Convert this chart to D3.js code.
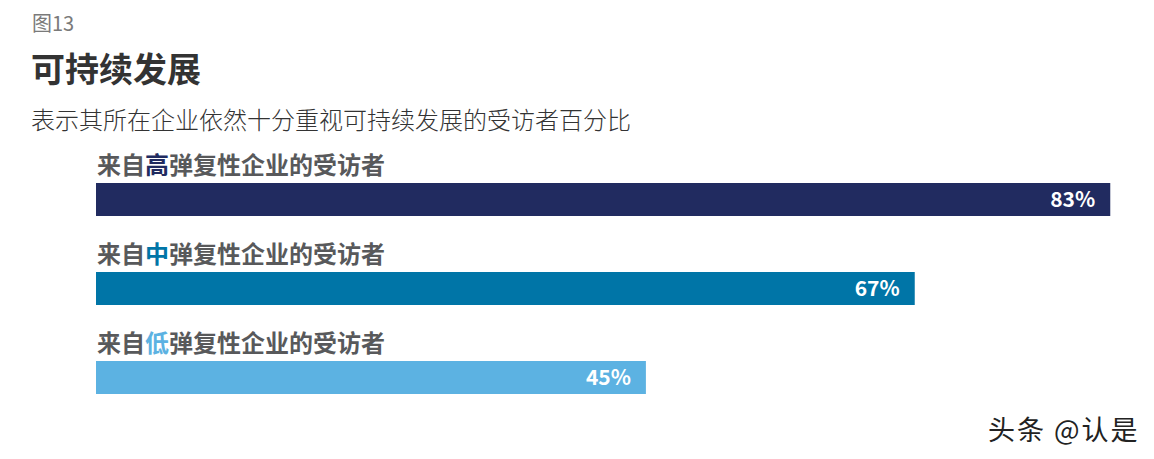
<!DOCTYPE html>
<html>
  <head>
    <meta charset="utf-8">
    <script src="https://d3js.org/d3.v7.min.js"></script>
    <style>
      body { margin: 0; background: #fff; }
      text { font-family: "Noto Sans CJK SC", "Noto Sans", sans-serif; }
    </style>
  </head>
  <body>
    <div id="chart"></div>
    <script>
      // data
      const groups = ['高', '中', '低'];
      const values = [83, 67, 45];
      const colors = ['#212b60', '#0075a7', '#5cb2e2'];
      const labelPrefix = '来自';
      const labelSuffix = '弹复性企业的受访者';

      const width = 1154;
      const height = 459;

      const svg = d3.select('#chart')
        .append('svg')
        .attr('width', width)
        .attr('height', height);

      const x = d3.scaleLinear()
        .domain([0, 100])
        .range([96, 1318]);

      const y = d3.scaleBand()
        .domain(groups)
        .range([183, 450])
        .paddingInner(0)
        .paddingOuter(0);

      const barH = 33;

      // header
      svg.append('text')
        .attr('x', 32).attr('y', 31)
        .attr('font-size', 20)
        .attr('fill', '#7a7a7a')
        .text('图13');

      svg.append('text')
        .attr('x', 31).attr('y', 82)
        .attr('font-size', 34)
        .attr('font-weight', 'bold')
        .attr('fill', '#333')
        .text('可持续发展');

      svg.append('text')
        .attr('x', 31).attr('y', 129)
        .attr('font-size', 24)
        .attr('font-weight', 300)
        .attr('fill', '#333')
        .text('表示其所在企业依然十分重视可持续发展的受访者百分比');

      const row = svg.selectAll('g.row')
        .data(groups)
        .join('g')
        .attr('class', 'row');

      row.append('rect')
        .attr('x', x(0))
        .attr('y', d => y(d))
        .attr('width', (d, i) => x(values[i]) - x(0))
        .attr('height', barH)
        .attr('fill', (d, i) => colors[i]);

      const label = row.append('text')
        .attr('x', x(0) + 1)
        .attr('y', d => y(d) - 9)
        .attr('font-size', 24)
        .attr('font-weight', 'bold')
        .attr('fill', '#58595b');
      label.append('tspan').text(labelPrefix);
      label.append('tspan').attr('fill', (d, i) => colors[i]).text(d => d);
      label.append('tspan').text(labelSuffix);

      row.append('text')
        .attr('x', (d, i) => x(values[i]) - 15)
        .attr('y', d => y(d) + barH / 2)
        .attr('dy', '0.36em')
        .attr('text-anchor', 'end')
        .attr('font-size', 21)
        .attr('font-family', '"Open Sans", "Noto Sans", sans-serif')
        .attr('font-weight', 600)
        .attr('fill', '#fff')
        .text((d, i) => values[i] + '%');

      // watermark
      svg.append('text')
        .attr('x', 988).attr('y', 440)
        .attr('font-size', 27)
        .attr('letter-spacing', 2)
        .attr('fill', '#222')
        .text('头条 @认是');
    </script>
  </body>
</html>
